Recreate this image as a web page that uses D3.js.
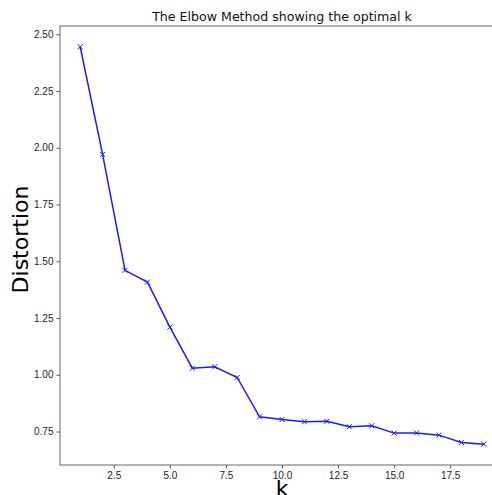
<!DOCTYPE html>
<html>
<head>
<meta charset="utf-8">
<script src="https://cdn.jsdelivr.net/npm/d3@7"></script>
<style>
  body { margin: 0; background: #fff; }
  svg { display: block; font-family: "DejaVu Sans", sans-serif; }
  .axis path, .axis line { stroke: #555; }
  .axis text { fill: #222; font-size: 10px; }
</style>
</head>
<body>
<svg id="chart" width="492" height="495"></svg>
<script>
// k values and distortion
const kValues = [1, 2, 3, 4, 5, 6, 7, 8, 9, 10, 11, 12, 13, 14, 15, 16, 17, 18, 19];
const distortion = [2.445, 1.971, 1.460, 1.408, 1.210, 1.029, 1.035, 0.988, 0.815, 0.803,
                    0.793, 0.795, 0.771, 0.775, 0.743, 0.744, 0.734, 0.702, 0.694];
const xTicks = [2.5, 5.0, 7.5, 10.0, 12.5, 15.0, 17.5];
const yTicks = [0.75, 1.00, 1.25, 1.50, 1.75, 2.00, 2.25, 2.50];

const svg = d3.select('#chart');

// axes box (right side runs past the window, like the reference)
const plotLeft = 60, plotRight = 504, plotTop = 26, plotBottom = 465;

// matplotlib-ish 5% margins
const xScale = d3.scaleLinear()
    .domain([0.1, 19.9])
    .range([plotLeft, plotRight]);

const yScale = d3.scaleLinear()
    .domain([0.6025, 2.5365])
    .range([plotBottom, plotTop]);

// spines
svg.append('rect')
    .attr('x', plotLeft).attr('y', plotTop)
    .attr('width', plotRight - plotLeft).attr('height', plotBottom - plotTop)
    .attr('fill', 'none')
    .attr('stroke', '#666')
    .attr('stroke-width', 1);

svg.append('g')
    .attr('class', 'axis')
    .attr('transform', `translate(0, ${plotBottom})`)
    .call(d3.axisBottom(xScale).tickValues(xTicks).tickFormat(d3.format('.1f')).tickSize(3.5).tickPadding(3))
    .call(g => g.select('.domain').remove());

svg.append('g')
    .attr('class', 'axis')
    .attr('transform', `translate(${plotLeft}, 0)`)
    .call(d3.axisLeft(yScale).tickValues(yTicks).tickFormat(d3.format('.2f')).tickSize(3.5).tickPadding(3))
    .call(g => g.select('.domain').remove());

const pts = kValues.map((k, i) => [k, distortion[i]]);

const line = d3.line()
    .x(d => xScale(d[0]))
    .y(d => yScale(d[1]));

svg.append('path')
    .datum(pts)
    .attr('d', line)
    .attr('fill', 'none')
    .attr('stroke', '#1a1aff')
    .attr('stroke-width', 1.5);

// 'x' markers
const m = 2.5;
svg.append('g')
    .selectAll('path')
    .data(pts)
    .join('path')
    .attr('d', d => {
        const cx = xScale(d[0]), cy = yScale(d[1]);
        return `M${cx - m},${cy - m}L${cx + m},${cy + m}M${cx - m},${cy + m}L${cx + m},${cy - m}`;
    })
    .attr('stroke', '#1a1aff')
    .attr('stroke-width', 1);

// title and labels
svg.append('text')
    .attr('x', (plotLeft + plotRight) / 2)
    .attr('y', 21)
    .attr('text-anchor', 'middle')
    .attr('font-size', 12.6)
    .attr('fill', '#111')
    .text('The Elbow Method showing the optimal k');

svg.append('text')
    .attr('transform', `translate(28, ${(plotTop + plotBottom) / 2 - 6}) rotate(-90)`)
    .attr('text-anchor', 'middle')
    .attr('font-size', 22)
    .attr('fill', '#000')
    .text('Distortion');

svg.append('text')
    .attr('x', (plotLeft + plotRight) / 2)
    .attr('y', 496)
    .attr('text-anchor', 'middle')
    .attr('font-size', 22)
    .attr('fill', '#000')
    .text('k');
</script>
</body>
</html>
